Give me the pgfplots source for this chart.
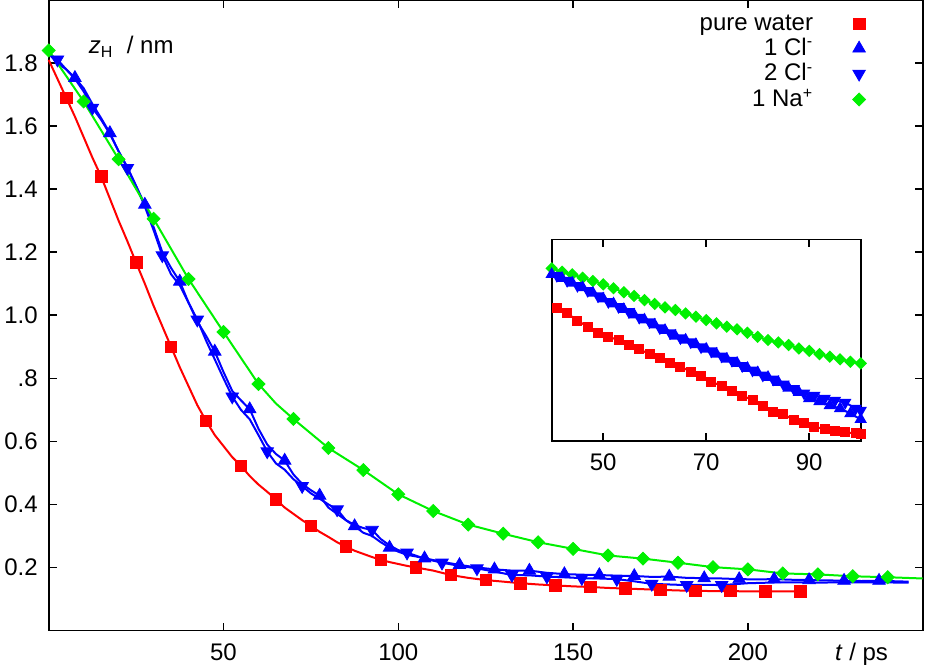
\documentclass[border=0pt]{standalone}
\usepackage{fontspec}
\setmainfont{Liberation Sans}
\usepackage{pgfplots}
\pgfplotsset{compat=1.18}
\definecolor{cred}{RGB}{255,0,0}
\definecolor{cblue}{RGB}{0,0,255}
\definecolor{cgreen}{RGB}{0,240,0}
\begin{document}
\begin{tikzpicture}
\begin{axis}[
  name=main, at={(0,0)}, anchor=south west,
  scale only axis, width=437pt, height=315.25pt,
  xmin=0, xmax=250, ymin=0, ymax=2,
  xtick={50,100,150,200},
  ytick={0.2,0.4,0.6,0.8,1.0,1.2,1.4,1.6,1.8},
  yticklabels={0.2,0.4,0.6,.8,1.0,1.2,1.4,1.6,1.8},
  extra x ticks={232.5}, extra x tick labels={\textit{t} / ps},
  extra x tick style={major tick length=0pt},
  tick align=inside, major tick length=4pt,
  axis line style={line width=0.9pt},
  every tick/.style={black, line width=0.8pt},
  font=\fontsize{12}{14}\selectfont,
  /pgf/number format/assume math mode=true,
  xticklabel style={yshift=-3pt},
  yticklabel style={xshift=-2pt},
  clip=false,
  legend plot pos=right,
  legend cell align=right,
  legend image code/.code={\path[draw=none,fill=none] (-21pt,-0.5pt) rectangle (0pt,0.5pt); \draw[#1] plot coordinates {(0pt,0pt)};},
  legend style={draw=none, fill=none, at={(0.942,0.99)}, anchor=north east,
    font=\fontsize{12}{14}\selectfont, row sep=-1.5pt},
]
% ---- lines ----
\addplot[cred, line width=1pt, forget plot] coordinates {
(0,1.81)(2.5,1.75)(5,1.69)(7.5,1.63)(10,1.565)(12.5,1.50)(15,1.44)(17.5,1.37)(20,1.30)(22.5,1.235)(25,1.167)(27.5,1.10)(30,1.03)(32.5,0.965)(35,0.90)(37.5,0.835)(40,0.775)(42.5,0.715)(45,0.665)(47.5,0.62)(50,0.585)(52.5,0.55)(55,0.522)(57.5,0.49)(60,0.463)(62.5,0.44)(65,0.416)(67.5,0.39)(70,0.37)(72.5,0.35)(75,0.332)(77.5,0.313)(80,0.297)(82.5,0.28)(85,0.266)(87.5,0.253)(90,0.243)(92.5,0.233)(95,0.224)(97.5,0.217)(100,0.211)(102.5,0.205)(105,0.200)(110,0.19)(115,0.176)(120,0.167)(125,0.160)(130,0.155)(135,0.150)(140,0.146)(145,0.143)(150,0.14)(155,0.138)(160,0.135)(165,0.133)(170,0.131)(175,0.129)(180,0.127)(185,0.126)(190,0.125)(195,0.125)(200,0.124)(205,0.124)(210,0.124)(215,0.124)};
\addplot[cblue, line width=1pt, forget plot] coordinates {
(0,1.83)(2.5,1.80)(5,1.78)(7.5,1.753)(10,1.72)(12.5,1.67)(15,1.625)(17.5,1.578)(20,1.52)(22.5,1.47)(25,1.41)(27.5,1.351)(30,1.28)(32.5,1.2)(35,1.15)(37.5,1.107)(40,1.04)(42.5,0.98)(45,0.935)(47.5,0.885)(50,0.82)(52.5,0.76)(55,0.73)(57.5,0.702)(60,0.64)(62.5,0.59)(65,0.56)(67.5,0.539)(70,0.495)(72.5,0.465)(75,0.445)(77.5,0.428)(80,0.39)(82.5,0.37)(85,0.35)(87.5,0.331)(90,0.31)(92.5,0.30)(95,0.28)(97.5,0.263)(100,0.25)(102.5,0.24)(105,0.235)(107.5,0.229)(112.5,0.218)(117.5,0.208)(122.5,0.2)(127.5,0.194)(132.5,0.19)(137.5,0.19)(142.5,0.183)(147.5,0.179)(152.5,0.177)(157.5,0.176)(162.5,0.174)(167.5,0.173)(172.5,0.17)(177.5,0.171)(182.5,0.167)(187.5,0.166)(192.5,0.165)(197.5,0.163)(202.5,0.162)(207.5,0.163)(212.5,0.161)(217.5,0.16)(222.5,0.159)(227.5,0.158)(232.5,0.157)(237.5,0.158)(242.5,0.156)(246,0.155)};
\addplot[cblue, line width=1pt, forget plot] coordinates {
(0,1.83)(2.5,1.811)(5,1.78)(7.5,1.75)(10,1.71)(12.5,1.658)(15,1.62)(17.5,1.575)(20,1.52)(22.5,1.467)(25,1.41)(27.5,1.345)(30,1.27)(32.5,1.19)(35,1.13)(37.5,1.095)(40,1.04)(42.5,0.986)(45,0.92)(47.5,0.86)(50,0.80)(52.5,0.742)(55,0.70)(57.5,0.67)(60,0.62)(62.5,0.568)(65,0.53)(67.5,0.51)(70,0.48)(72.5,0.458)(75,0.435)(77.5,0.418)(80,0.40)(82.5,0.384)(85,0.35)(87.5,0.335)(90,0.325)(92.5,0.319)(95,0.29)(97.5,0.27)(100,0.255)(102.5,0.247)(107.5,0.228)(112.5,0.215)(117.5,0.205)(122.5,0.197)(127.5,0.187)(132.5,0.176)(137.5,0.175)(142.5,0.171)(147.5,0.169)(152.5,0.166)(157.5,0.165)(162.5,0.163)(167.5,0.156)(172.5,0.148)(177.5,0.146)(182.5,0.144)(187.5,0.145)(192.5,0.144)(200,0.15)(210,0.153)(220,0.152)(230,0.153)(246,0.152)};
\addplot[cgreen, line width=1pt, forget plot] coordinates {
(0,1.84)(10,1.678)(20,1.495)(30,1.306)(40,1.115)(50,0.947)(60,0.782)(65,0.72)(70,0.671)(80,0.579)(90,0.509)(100,0.432)(110,0.379)(120,0.336)(130,0.307)(140,0.280)(150,0.259)(160,0.238)(170,0.228)(180,0.215)(190,0.201)(200,0.194)(210,0.181)(220,0.178)(230,0.172)(240,0.169)(250,0.165)};
% ---- marks ----
\addplot[only marks, mark=square*, mark size=2.9pt, color=cred] coordinates {
(5,1.69)(15,1.44)(25,1.167)(35,0.90)(45,0.665)(55,0.522)(65,0.416)(75,0.332)(85,0.266)(95,0.224)(105,0.200)(115,0.176)(125,0.160)(135,0.150)(145,0.143)(155,0.138)(165,0.133)(175,0.129)(185,0.126)(195,0.125)(205,0.124)(215,0.124)};
\addlegendentry{pure water}
\addplot[only marks, mark=triangle*, mark size=3.6pt, color=cblue] coordinates {
(7.5,1.753)(17.5,1.578)(27.5,1.351)(37.5,1.107)(47.5,0.885)(57.5,0.702)(67.5,0.539)(77.5,0.428)(87.5,0.331)(97.5,0.263)(107.5,0.229)(117.5,0.208)(127.5,0.194)(137.5,0.19)(147.5,0.179)(157.5,0.176)(167.5,0.173)(177.5,0.171)(187.5,0.166)(197.5,0.163)(207.5,0.163)(217.5,0.16)(227.5,0.158)(237.5,0.158)};
\addlegendentry{1 Cl\textsuperscript{-}}
\addplot[only marks, mark=triangle*, mark size=3.6pt, color=cblue, mark options={rotate=180}] coordinates {
(2.5,1.811)(12.5,1.658)(22.5,1.467)(32.5,1.19)(42.5,0.986)(52.5,0.742)(62.5,0.568)(72.5,0.458)(82.5,0.384)(92.5,0.319)(102.5,0.247)(112.5,0.215)(122.5,0.197)(132.5,0.176)(142.5,0.171)(152.5,0.166)(162.5,0.163)(172.5,0.148)(182.5,0.144)(192.5,0.144)};
\addlegendentry{2 Cl\textsuperscript{-}}
\addplot[only marks, mark=square*, mark size=2.3pt, color=cgreen, mark options={rotate=45}] coordinates {
(0,1.84)(10,1.678)(20,1.495)(30,1.306)(40,1.115)(50,0.947)(60,0.782)(70,0.671)(80,0.579)(90,0.509)(100,0.432)(110,0.379)(120,0.336)(130,0.307)(140,0.280)(150,0.259)(160,0.238)(170,0.228)(180,0.215)(190,0.201)(200,0.194)(210,0.181)(220,0.178)(230,0.172)(240,0.169)};
\addlegendentry{1 Na\textsuperscript{+}}
\node[anchor=west, font=\fontsize{12}{14}\selectfont] at (axis cs:9.5,1.852) {\textit{z}\textsubscript{H}\ \ / nm};
\end{axis}
% ---- inset ----
\begin{axis}[
  at={(251.5pt,94.9pt)}, anchor=south west,
  scale only axis, width=154.5pt, height=100.7pt,
  xmin=40, xmax=100, ymin=0, ymax=1,
  xtick={50,70,90}, ytick=\empty,
  tick align=inside, major tick length=4pt,
  axis line style={line width=0.8pt},
  every tick/.style={black, line width=0.8pt},
  font=\fontsize{12}{14}\selectfont,
  /pgf/number format/assume math mode=true,
  xticklabel style={yshift=-3pt},
  clip=false,
]
\addplot[cred, line width=1pt, mark=square*, mark size=2pt] coordinates {
(41,0.657)(43,0.633)(45,0.596)(47,0.566)(49,0.536)(51,0.516)(53,0.500)(55,0.475)(57,0.454)(59,0.430)(61,0.409)(63,0.387)(65,0.368)(67,0.343)(69,0.321)(71,0.293)(73,0.272)(75,0.248)(77,0.224)(79,0.202)(81,0.174)(83,0.144)(85,0.132)(87,0.103)(89,0.086)(91,0.069)(93,0.058)(95,0.050)(97,0.041)(99,0.036)(100,0.034)};
\addplot[cgreen, line width=1pt, mark=square*, mark size=1.7pt, mark options={rotate=45}] coordinates {
(40,0.856)(42,0.839)(44,0.826)(46,0.809)(48,0.793)(50,0.776)(52,0.757)(54,0.737)(56,0.719)(58,0.698)(60,0.679)(62,0.662)(64,0.649)(66,0.632)(68,0.616)(70,0.599)(72,0.583)(74,0.566)(76,0.553)(78,0.536)(80,0.516)(82,0.500)(84,0.488)(86,0.475)(88,0.458)(90,0.446)(92,0.430)(94,0.417)(96,0.404)(98,0.392)(100,0.384)};
\addplot[cblue, line width=1pt, mark=triangle*, mark size=2.6pt] coordinates {
(40,0.826)(42,0.806)(44,0.783)(46,0.76)(48,0.733)(50,0.705)(52,0.68)(54,0.652)(56,0.625)(58,0.6)(60,0.575)(62,0.548)(64,0.52)(66,0.5)(68,0.478)(70,0.455)(72,0.43)(74,0.405)(76,0.385)(78,0.36)(80,0.338)(82,0.315)(84,0.29)(86,0.262)(88,0.24)(90,0.21)(92,0.195)(94,0.175)(96,0.16)(98,0.135)(100,0.106)};
\addplot[cblue, line width=1pt, mark=triangle*, mark size=2.6pt, mark options={rotate=180}] coordinates {
(41,0.82)(43,0.795)(45,0.77)(47,0.745)(49,0.718)(51,0.69)(53,0.665)(55,0.64)(57,0.612)(59,0.59)(61,0.56)(63,0.535)(65,0.51)(67,0.49)(69,0.465)(71,0.445)(73,0.42)(75,0.398)(77,0.372)(79,0.35)(81,0.325)(83,0.305)(85,0.28)(87,0.258)(89,0.236)(91,0.225)(93,0.21)(95,0.2)(97,0.19)(99,0.16)(100,0.15)};
\end{axis}
\pgfresetboundingbox
\path[use as bounding box] (-24.35pt,-19.75pt) rectangle (438.15pt,315.25pt);
\end{tikzpicture}
\end{document}
